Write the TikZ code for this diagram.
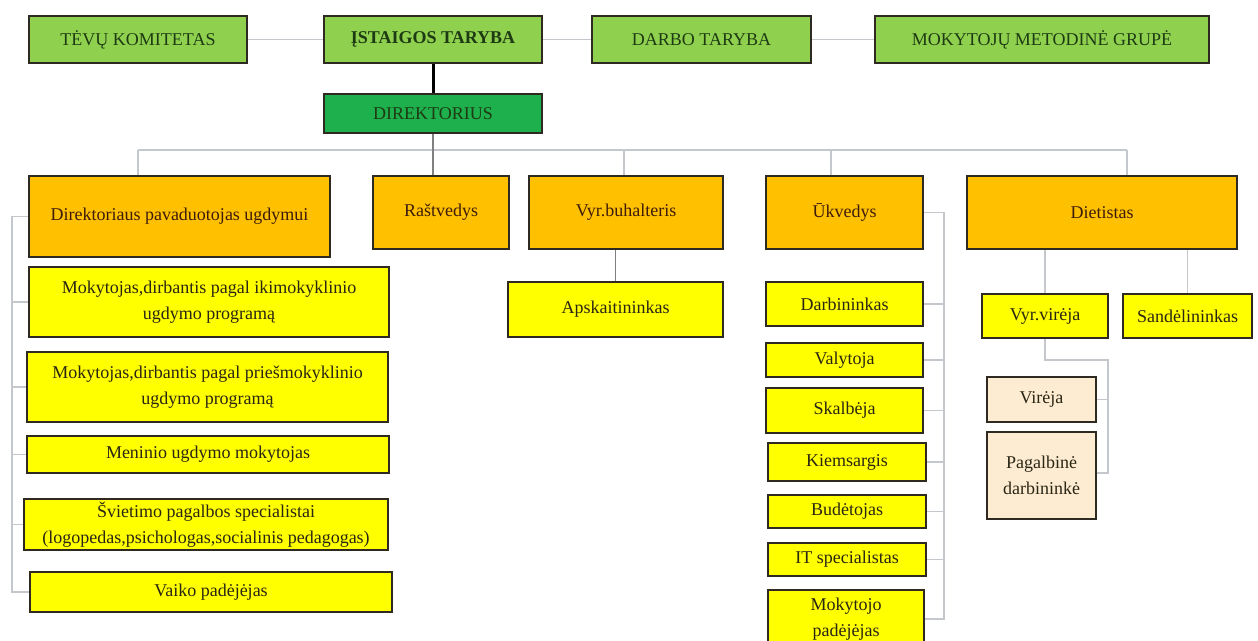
\documentclass[tikz,border=0pt]{standalone}
\usepackage{fontspec}
\setmainfont{Liberation Serif}
\definecolor{lgreen}{HTML}{8FD14F}
\definecolor{dgreen}{HTML}{1DB04C}
\definecolor{orng}{HTML}{FFC000}
\definecolor{ylw}{HTML}{FFFF00}
\definecolor{beige}{HTML}{FDEBD2}
\definecolor{conn}{HTML}{C4C8CC}
\definecolor{gtext}{HTML}{1E3A12}
\definecolor{otext}{HTML}{3E1C0C}
\definecolor{ytext}{HTML}{2A2614}
\definecolor{bord}{HTML}{2E2A22}
\tikzset{
  box/.style={draw=bord, line width=1.6pt, inner sep=0pt, align=center,
    font=\fontsize{18}{26}\selectfont},
  topbox/.style={box, fill=lgreen, text=gtext},
  dirbox/.style={box, fill=dgreen, text=gtext},
  orbox/.style={box, fill=orng, text=otext},
  ylbox/.style={box, fill=ylw, text=ytext},
  bgbox/.style={box, fill=beige, text=ytext},
  link/.style={draw=conn, line width=1.6pt},
  thick link/.style={draw=black, line width=3pt},
  mid link/.style={draw=gray, line width=1.4pt}
}
\newcommand\bx[7]{\node[#6, minimum width={(#4-#2)*1pt}, minimum height={(#5-#3)*1pt}] (#1) at ({(#2+#4)/2},{(#3+#5)/2}) {#7};}
\begin{document}
\begin{tikzpicture}[x=1pt,y=-1pt]
\useasboundingbox (0,0) rectangle (1258,640);
\begin{scope}
\clip (0,0) rectangle (1258,640);
% top row
\bx{tevu}{29}{16}{247}{63}{topbox}{TĖVŲ KOMITETAS}
\bx{ist}{324}{16}{542}{63}{topbox}{\bfseries ĮSTAIGOS TARYBA}
\bx{darbo}{592}{16}{811}{63}{topbox}{DARBO TARYBA}
\bx{mmg}{875}{16}{1209}{63}{topbox}{MOKYTOJŲ METODINĖ GRUPĖ}
\bx{dir}{324}{94}{542}{133}{dirbox}{DIREKTORIUS}
% second level
\bx{pav}{29}{176}{330}{257}{orbox}{Direktoriaus pavaduotojas ugdymui}
\bx{ras}{373}{176}{509}{249}{orbox}{Raštvedys}
\bx{buh}{529}{176}{723}{249}{orbox}{Vyr.buhalteris}
\bx{ukv}{766}{176}{923}{249}{orbox}{Ūkvedys}
\bx{diet}{967}{176}{1237}{249}{orbox}{Dietistas}
% left column
\bx{m1}{29}{267}{389}{337}{ylbox}{Mokytojas,dirbantis pagal ikimokyklinio\\ugdymo programą}
\bx{m2}{27}{352}{388}{422}{ylbox}{Mokytojas,dirbantis pagal priešmokyklinio\\ugdymo programą}
\bx{m3}{27}{436}{389}{473}{ylbox}{Meninio ugdymo mokytojas}
\bx{m4}{24}{499}{388}{550}{ylbox}{Švietimo pagalbos specialistai\\(logopedas,psichologas,socialinis pedagogas)}
\bx{m5}{30}{572}{392}{612}{ylbox}{Vaiko padėjėjas}
% accountant
\bx{aps}{508}{282}{723}{337}{ylbox}{Apskaitininkas}
% ukvedys column
\bx{u1}{766}{282}{923}{326}{ylbox}{Darbininkas}
\bx{u2}{766}{343}{923}{377}{ylbox}{Valytoja}
\bx{u3}{766}{388}{923}{433}{ylbox}{Skalbėja}
\bx{u4}{768}{443}{926}{481}{ylbox}{Kiemsargis}
\bx{u5}{768}{495}{926}{528}{ylbox}{Budėtojas}
\bx{u6}{768}{543}{926}{576}{ylbox}{IT specialistas}
\bx{u7}{768}{590}{924}{648}{ylbox}{Mokytojo\\padėjėjas}
% dietistas
\bx{vv}{982}{294}{1108}{338}{ylbox}{Vyr.virėja}
\bx{sand}{1123}{294}{1252}{338}{ylbox}{Sandėlininkas}
\bx{vir}{987}{377}{1096}{422}{bgbox}{Virėja}
\bx{pag}{987}{432}{1096}{519}{bgbox}{Pagalbinė\\darbininkė}
% coordinates
\coordinate (busL) at (138,150);
\coordinate (busR) at (1127,150);
\coordinate (busB) at (624,150);
\coordinate (busU) at (831,150);
\coordinate (lb) at (12,0);
\coordinate (rb) at (944,0);
\coordinate (vk) at (1108,360);
\coordinate (pk) at (1108,473);
% connectors
\draw[link] (tevu) -- (ist);
\draw[link] (ist) -- (darbo);
\draw[link] (darbo) -- (mmg);
\draw[thick link] (ist.south) -- (dir.north);
\draw[link] (busL) -- (busR);
\draw[mid link] (dir.south) -- (dir.south |- ras.north);
\draw[link] (busL) -- (busL |- pav.north);
\draw[link] (busB) -- (busB |- buh.north);
\draw[link] (busU) -- (busU |- ukv.north);
\draw[link] (busR) -- (busR |- diet.north);
\draw[link] (pav.west) -| (lb |- m5.west) -- (m5.west);
\foreach \n in {m1,m2,m3,m4} \draw[link] (lb |- \n.west) -- (\n.west);
\draw[mid link] (aps.north) -- (aps.north |- buh.south);
\draw[link] (ukv.east) -| (rb |- u7.east) -- (u7.east);
\foreach \n in {u1,u2,u3,u4,u5,u6} \draw[link] (rb |- \n.east) -- (\n.east);
\draw[link] (vv.north) -- (vv.north |- diet.south);
\draw[link] (sand.north) -- (sand.north |- diet.south);
\draw[link] (vv.south) |- (vk) -- (pk) -- (pk -| pag.east);
\draw[link] (vk |- vir.east) -- (vir.east);
\end{scope}
\end{tikzpicture}
\end{document}
